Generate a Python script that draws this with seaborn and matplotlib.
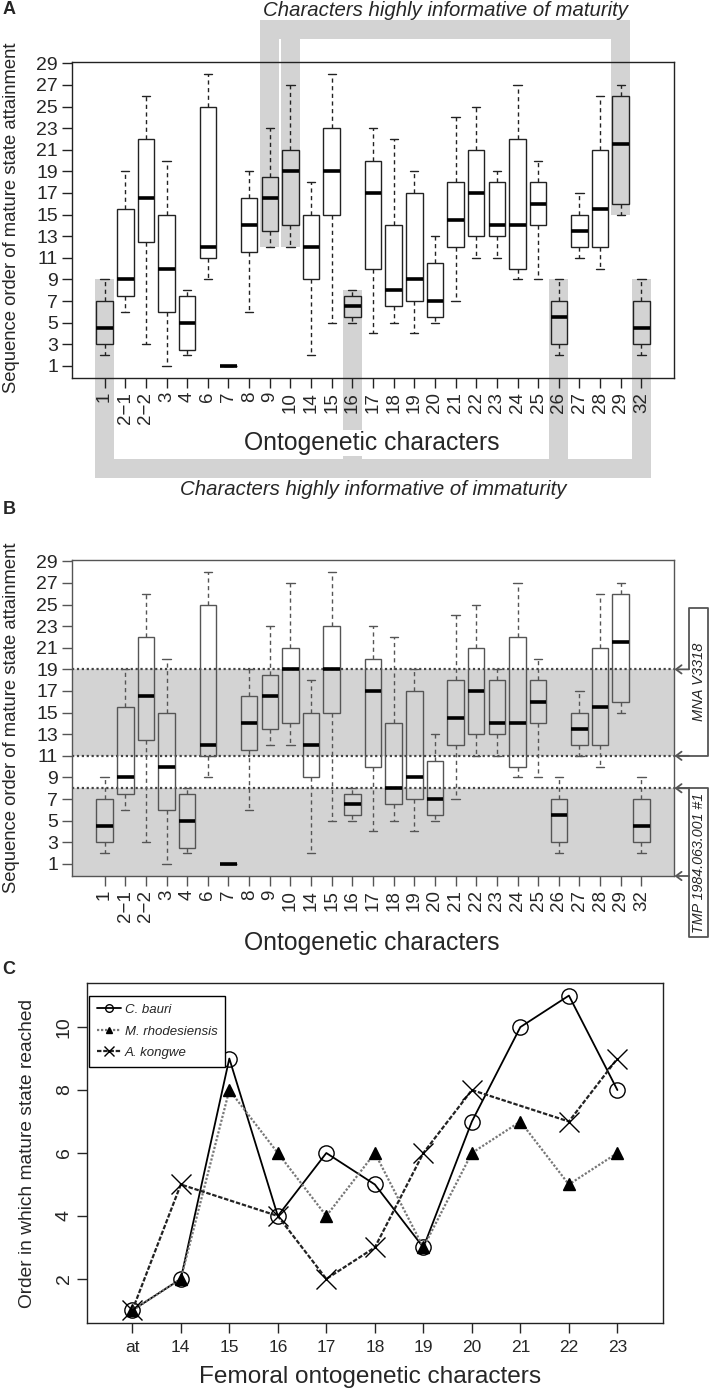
import numpy as np
import pandas as pd
import matplotlib
matplotlib.use("Agg")
import matplotlib.pyplot as plt
import matplotlib.patches as mpatches
from matplotlib.lines import Line2D
import seaborn as sns

# ---- panels A/B: box summaries per ontogenetic character ----
characters = ['1', '2\u22121', '2\u22122', '3', '4', '6', '7', '8', '9', '10', '14', '15', '16',
              '17', '18', '19', '20', '21', '22', '23', '24', '25', '26', '27', '28', '29', '32']
whisker_lo = [2, 6, 3, 1, 2, 9, 1, 6, 12, 12, 2, 5, 5, 4, 5, 4, 5, 7, 11, 11, 9, 9, 2, 11, 10, 15, 2]
quart_lo = [3, 7.5, 12.5, 6, 2.5, 11, 1, 11.5, 13.5, 14, 9, 15, 5.5, 10, 6.5, 7, 5.5, 12, 13, 13, 10, 14, 3, 12, 12, 16, 3]
medians = [4.5, 9, 16.5, 10, 5, 12, 1, 14, 16.5, 19, 12, 19, 6.5, 17, 8, 9, 7, 14.5, 17, 14, 14, 16, 5.5, 13.5, 15.5, 21.5, 4.5]
quart_hi = [7, 15.5, 22, 15, 7.5, 25, 1, 16.5, 18.5, 21, 15, 23, 7.5, 20, 14, 17, 10.5, 18, 21, 18, 22, 18, 7, 15, 21, 26, 7]
whisker_hi = [9, 19, 26, 20, 8, 28, 1, 19, 23, 27, 18, 28, 8, 23, 22, 19, 13, 24, 25, 19, 27, 20, 9, 17, 26, 27, 9]

mature_chars = ['9', '10', '29']
immature_chars = ['1', '16', '26', '32']

# panel B specimen ranges
mna_range = (11, 19)
tmp_upper = 8

# ---- panel C: femoral characters ----
femoral = ['at', '14', '15', '16', '17', '18', '19', '20', '21', '22', '23']
bauri = [1, 2, 9, 4, 6, 5, 3, 7, 10, 11, 8]
rhodesiensis = [1, 2, 8, 6, 4, 6, 3, 6, 7, 5, 6]
kongwe = [1, 5, np.nan, 4, 2, 3, 6, 8, np.nan, 7, 9]

sns.set_style("ticks")
plt.rcParams['font.family'] = ['Liberation Sans', 'DejaVu Sans']

W, H = 709, 1393
fig = plt.figure(figsize=(W / 100, H / 100), dpi=100)

box_df = pd.DataFrame({
    'character': np.repeat(characters, 5),
    'value': np.column_stack([whisker_lo, quart_lo, medians, quart_hi, whisker_hi]).ravel(),
})

GRAY = '#d3d3d3'


def px_box(left, top, right, bottom):
    return [left / W, 1 - bottom / H, (right - left) / W, (bottom - top) / H]


def draw_boxes(ax, edge):
    sns.boxplot(data=box_df, x='character', y='value', order=characters, whis=(0, 100),
                width=0.8, linecolor=edge, linewidth=1.0, ax=ax,
                boxprops=dict(facecolor='none'),
                whiskerprops=dict(linestyle=(0, (3, 2.5))),
                medianprops=dict(linewidth=2.6, color='black'))
    for p in ax.patches:
        p.set_facecolor('none')
    ax.set_xlim(-1.58, len(characters) + 0.58)
    ax.set_ylim(-0.12, 29.12)
    ax.set_yticks(range(1, 30, 2))
    ax.set_xlabel('')
    ax.set_ylabel('')
    ax.tick_params(axis='x', rotation=90, labelsize=13.5, length=7, width=1, pad=3, color=edge)
    ax.tick_params(axis='y', labelsize=14, length=7, width=1, pad=3, color=edge)
    for s in ax.spines.values():
        s.set_edgecolor(edge)
        s.set_linewidth(1.0)


# ---------------- Panel A ----------------
axa = fig.add_axes(px_box(72, 62, 674, 378))
draw_boxes(axa, '#222222')

half = 0.46
top_lo, top_hi = 31.25, 33.0
bot_hi, bot_lo = -7.64, -9.40
mi = [characters.index(c) for c in mature_chars]
ii = [characters.index(c) for c in immature_chars]
axa.add_patch(mpatches.Rectangle((min(mi) - half, top_lo), max(mi) - min(mi) + 2 * half,
                                 top_hi - top_lo, color=GRAY, lw=0, clip_on=False, zorder=0.5))
for k, i in enumerate(mi):
    y0 = whisker_lo[i]
    y1 = top_hi if k == 0 else top_lo
    axa.add_patch(mpatches.Rectangle((i - half, y0), 2 * half, y1 - y0, color=GRAY, lw=0,
                                     clip_on=False, zorder=0.5))
axa.add_patch(mpatches.Rectangle((min(ii) - half, bot_lo), max(ii) - min(ii) + 2 * half,
                                 bot_hi - bot_lo, color=GRAY, lw=0, clip_on=False, zorder=0.5))
for i in ii:
    y1 = whisker_hi[i]
    axa.add_patch(mpatches.Rectangle((i - half, bot_hi), 2 * half, y1 - bot_hi, color=GRAY, lw=0,
                                     clip_on=False, zorder=0.5))

axa.text(16.49, 33.88, 'Characters highly informative of maturity', style='italic',
         fontsize=14.7, ha='center', va='center', clip_on=False)
axa.text(13.0, -10.4, 'Characters highly informative of immaturity', style='italic',
         fontsize=14.7, ha='center', va='center', clip_on=False)

fig.text(372 / W, 1 - 443 / H, 'Ontogenetic characters', fontsize=17.8, ha='center', va='center',
         bbox=dict(facecolor='white', edgecolor='none', pad=1.0))
fig.text(12 / W, 1 - 218 / H, 'Sequence order of mature state attainment', fontsize=13.3,
         rotation=90, ha='center', va='center')

# ---------------- Panel B ----------------
axb = fig.add_axes(px_box(72, 560, 674, 876))
draw_boxes(axb, '#555555')
ylo = axb.get_ylim()[0]
axb.axhspan(ylo, tmp_upper, color=GRAY, lw=0, zorder=0.3)
axb.axhspan(mna_range[0], mna_range[1], color=GRAY, lw=0, zorder=0.3)
for yv in [tmp_upper, mna_range[0], mna_range[1]]:
    axb.axhline(yv, color='#444444', linestyle=(0, (1, 1.2)), lw=1.6, zorder=1)

fig.text(372 / W, 1 - 943 / H, 'Ontogenetic characters', fontsize=17.8, ha='center', va='center')
fig.text(12 / W, 1 - 718 / H, 'Sequence order of mature state attainment', fontsize=13.3,
         rotation=90, ha='center', va='center')


def fpt(x, y):
    return (x / W, 1 - y / H)


def yb(v):
    # pixel row of a panel-B data value
    return 876 - (v + 0.12) / 29.24 * 316


ec = '#555555'
mna_top = 607.7
mna_path = [fpt(689, yb(mna_range[1])), fpt(689, mna_top), fpt(708, mna_top),
            fpt(708, yb(mna_range[0])), fpt(676, yb(mna_range[0]))]
fig.add_artist(Line2D([p[0] for p in mna_path], [p[1] for p in mna_path], color=ec, lw=1.3,
                      transform=fig.transFigure))
tmp_bottom = 937
tmp_path = [fpt(676, yb(tmp_upper)), fpt(708, yb(tmp_upper)), fpt(708, tmp_bottom),
            fpt(689, tmp_bottom), fpt(689, yb(tmp_upper))]
fig.add_artist(Line2D([p[0] for p in tmp_path], [p[1] for p in tmp_path], color=ec, lw=1.3,
                      transform=fig.transFigure))
for ypix in [yb(mna_range[1]), yb(mna_range[0]), yb(tmp_upper), 876]:
    fig.add_artist(mpatches.FancyArrowPatch(fpt(689, ypix), fpt(674.5, ypix),
                                            transform=fig.transFigure, arrowstyle='->,head_length=4,head_width=3',
                                            color=ec, lw=1.3, shrinkA=0, shrinkB=0))
fig.text(699 / W, 1 - (mna_top + yb(mna_range[0])) / 2 / H, 'MNA V3318', style='italic',
         fontsize=10.5, rotation=90, ha='center', va='center')
fig.text(699 / W, 1 - (yb(tmp_upper) + tmp_bottom) / 2 / H, 'TMP 1984.063.001 #1', style='italic',
         fontsize=10.3, rotation=90, ha='center', va='center')

# ---------------- Panel C ----------------
axc = fig.add_axes(px_box(86.7, 983, 663, 1323))
xpos = np.arange(1, len(femoral) + 1)
series = [
    ('C. bauri', bauri, dict(color='black', linestyle='-', lw=1.3, marker='o', markersize=11,
                             markerfacecolor='none', markeredgecolor='black', markeredgewidth=1.0)),
    ('M. rhodesiensis', rhodesiensis, dict(color='#777777', linestyle=(0, (1, 0.8)), lw=1.6,
                                           marker='^', markersize=8, markerfacecolor='black',
                                           markeredgecolor='black', markeredgewidth=1.0)),
    ('A. kongwe', kongwe, dict(color='#222222', linestyle=(0, (2, 0.8)), lw=1.6, marker='x',
                               markersize=15, markeredgecolor='black', markeredgewidth=1.0)),
]
for name, vals, style in series:
    d = pd.DataFrame({'x': xpos, 'y': vals}).dropna()
    sns.lineplot(data=d, x='x', y='y', ax=axc, label=name, errorbar=None, **style)

axc.set_xlim(0.06, len(femoral) + 0.94)
axc.set_ylim(0.6, 11.4)
axc.set_xticks(xpos)
axc.set_xticklabels(femoral)
axc.set_yticks([2, 4, 6, 8, 10])
axc.set_xlabel('')
axc.set_ylabel('')
axc.tick_params(axis='x', labelsize=12.5, length=7, width=1, pad=5)
axc.tick_params(axis='y', labelsize=14, length=7, width=1, pad=3, labelrotation=90)
for lbl in axc.get_yticklabels():
    lbl.set_va('center')
for s in axc.spines.values():
    s.set_edgecolor('#222222')
    s.set_linewidth(1.0)
leg = axc.legend(loc='upper left', bbox_to_anchor=(0.004, 0.962), borderaxespad=0, frameon=True,
                 fancybox=False, edgecolor='black', framealpha=1, prop=dict(style='italic', size=9.5),
                 handlelength=1.8, markerscale=0.5, borderpad=0.6, labelspacing=0.7,
                 handletextpad=0.3)
leg.get_frame().set_linewidth(1.0)

fig.text(370 / W, 1 - 1377 / H, 'Femoral ontogenetic characters', fontsize=17.6, ha='center',
         va='center')
fig.text(28 / W, 1 - 1153 / H, 'Order in which mature state reached', fontsize=13.8,
         rotation=90, ha='center', va='center')

# panel letters
for letter, ypix in [('A', 9), ('B', 510), ('C', 969)]:
    fig.text(9 / W, 1 - ypix / H, letter, fontsize=13, fontweight='bold', ha='center', va='center')

fig.savefig('out.png', dpi=100)
